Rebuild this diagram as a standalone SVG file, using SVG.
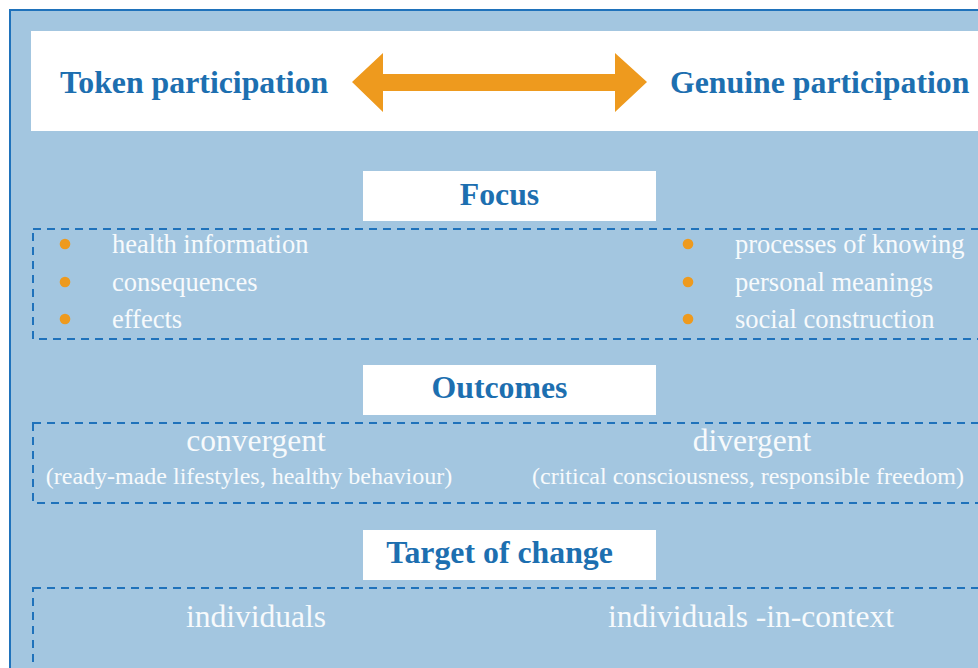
<svg xmlns="http://www.w3.org/2000/svg" width="978" height="668" viewBox="0 0 978 668">
<style>
.bg{fill:#a3c6e0;stroke:#1f72bb;stroke-width:2}
.wbox{fill:#ffffff}
.dash{fill:none;stroke:#1f72bb;stroke-width:2;stroke-dasharray:8 6}
.head{font-family:"Liberation Serif","Times New Roman",serif;font-weight:bold;fill:#1d6fb0;font-size:31.8px}
.big{font-family:"Liberation Serif","Times New Roman",serif;fill:#f7fafc;font-size:31.5px;text-anchor:middle}
.item{font-family:"Liberation Serif","Times New Roman",serif;fill:#f7fafc;font-size:26.5px}
.sub{font-family:"Liberation Serif","Times New Roman",serif;fill:#f7fafc;font-size:24px;text-anchor:middle}
.dot{fill:#ee9a1e}
</style>
<rect class="bg" x="10" y="10" width="990" height="680"/>
<g id="header">
<rect class="wbox" x="31" y="31" width="960" height="100"/>
<text class="head" x="60" y="93">Token participation</text>
<text class="head" x="670" y="93">Genuine participation</text>
</g>
<g id="connectors">
<polygon fill="#ee9a1e" points="352,82 383,53 383,74 615,74 615,53 647,82 615,112 615,91 383,91 383,112"/>
</g>
<g id="focus">
<rect class="wbox" x="363" y="171" width="293" height="50"/>
<text class="head" x="499.5" y="205" text-anchor="middle">Focus</text>
<rect class="dash" x="33" y="229" width="960" height="110"/>
<circle class="dot" cx="65" cy="244" r="5.3"/>
<circle class="dot" cx="65" cy="282" r="5.3"/>
<circle class="dot" cx="65" cy="319" r="5.3"/>
<text class="item" x="112" y="253">health information</text>
<text class="item" x="112" y="291">consequences</text>
<text class="item" x="112" y="328">effects</text>
<circle class="dot" cx="688" cy="244" r="5.3"/>
<circle class="dot" cx="688" cy="282" r="5.3"/>
<circle class="dot" cx="688" cy="319" r="5.3"/>
<text class="item" x="735" y="253">processes of knowing</text>
<text class="item" x="735" y="291">personal meanings</text>
<text class="item" x="735" y="328">social construction</text>
</g>
<g id="outcomes">
<rect class="wbox" x="363" y="365" width="293" height="50"/>
<text class="head" x="499.5" y="398" text-anchor="middle">Outcomes</text>
<rect class="dash" x="33" y="423" width="960" height="80"/>
<text class="big" x="256" y="451">convergent</text>
<text class="sub" x="249" y="484">(ready-made lifestyles, healthy behaviour)</text>
<text class="big" x="752" y="451">divergent</text>
<text class="sub" x="748" y="484">(critical consciousness, responsible freedom)</text>
</g>
<g id="target">
<rect class="wbox" x="363" y="530" width="293" height="50"/>
<text class="head" x="499.5" y="563" text-anchor="middle">Target of change</text>
<rect class="dash" x="33" y="588" width="960" height="120"/>
<text class="big" x="256" y="627">individuals</text>
<text class="big" x="751" y="627">individuals -in-context</text>
</g>
</svg>
